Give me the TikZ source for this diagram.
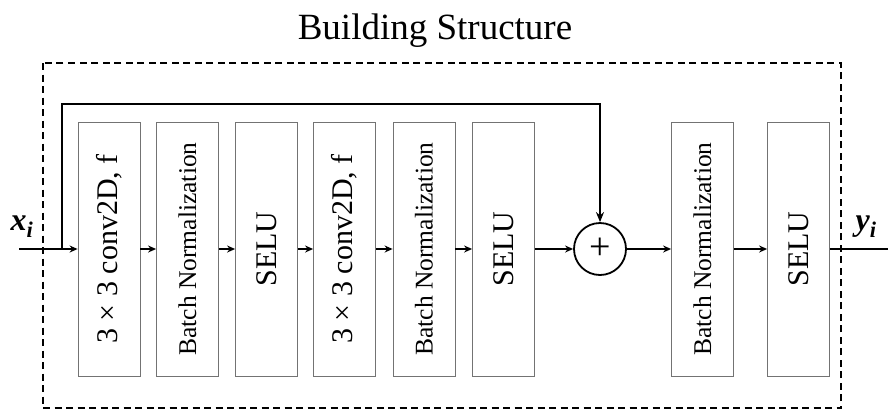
\documentclass[tikz,border=0pt]{standalone}
\usepackage{fontspec}
\setmainfont{Liberation Serif}
\usepackage{graphicx}
\usetikzlibrary{arrows.meta, calc}

\begin{document}
\begin{tikzpicture}[
  x=1pt, y=-1pt,
  % ---- styles ----
  layer/.style = {
    rectangle, draw=black!55, line width=0.8pt,
    minimum width=62pt, minimum height=254pt,
    inner sep=0pt,
    font=\fontsize{30}{30}\selectfont
  },
  bnlayer/.style = {layer, font=\fontsize{25.5}{25.5}\selectfont},
  addop/.style = {circle, draw, line width=1.8pt, minimum size=52pt,
    inner sep=0pt, font=\fontsize{38}{38}\selectfont},
  flow/.style = {-{Stealth[length=8pt, width=7pt]}, line width=1.6pt},
  skipline/.style = {-{Stealth[length=10pt, width=8pt]}, line width=2.6pt},
  frame/.style = {dashed, dash pattern=on 7pt off 4.5pt, line width=1.5pt},
  iolabel/.style = {font=\fontsize{32}{32}\selectfont\bfseries\itshape}
]
\useasboundingbox (0,0) rectangle (888,416);

% ============ TITLE & FRAME ============
\node[font=\fontsize{37}{37}\selectfont] (title) at (435,31) {Building Structure};
\draw[frame] (43,63) rectangle (841,408);

% ============ LAYERS ============

% --- first branch ---
\node[layer]   (conv1) at (109,249)   {\rotatebox{90}{3 × 3 conv2D, f}};
\node[bnlayer] (bn1)   at (187.5,249) {\rotatebox{90}{Batch Normalization}};
\node[layer]   (selu1) at (266.5,249) {\rotatebox{90}{SELU}};
\node[layer]   (conv2) at (344.5,249) {\rotatebox{90}{3 × 3 conv2D, f}};
\node[bnlayer] (bn2)   at (424,249)   {\rotatebox{90}{Batch Normalization}};
\node[layer]   (selu2) at (503.5,249) {\rotatebox{90}{SELU}};

% --- merge ---
\node[addop] (add) at (600,249) {\raisebox{-1pt}{+}};

% --- after merge ---
\node[bnlayer] (bn3)   at (702.5,249) {\rotatebox{90}{Batch Normalization}};
\node[layer]   (selu3) at (798.5,249) {\rotatebox{90}{SELU}};

% --- in / out ---
\coordinate (xin)     at (19,249);
\coordinate (split)   at (62,249);
\coordinate (skiptop) at (62,104);
\coordinate (yout)    at (888,249);
\node[iolabel] (xlabel) at (22,227) {x\textsubscript{i}};
\node[iolabel] (ylabel) at (866,227) {y\textsubscript{i}};

% ============ CONNECTIONS ============
\draw[flow] (xin) -- (conv1.west);
\draw[flow] (conv1.east) -- (bn1.west);
\draw[flow] (bn1.east) -- (selu1.west);
\draw[flow] (selu1.east) -- (conv2.west);
\draw[flow] (conv2.east) -- (bn2.west);
\draw[flow] (bn2.east) -- (selu2.west);
\draw[flow] (selu2.east) -- (add.west);
\draw[flow] (add.east) -- (bn3.west);
\draw[flow] (bn3.east) -- (selu3.west);
\draw[line width=1.6pt] (selu3.east) -- (yout);

% skip connection
\draw[skipline] (split) -- (skiptop) -| (add.north);

\end{tikzpicture}
\end{document}
